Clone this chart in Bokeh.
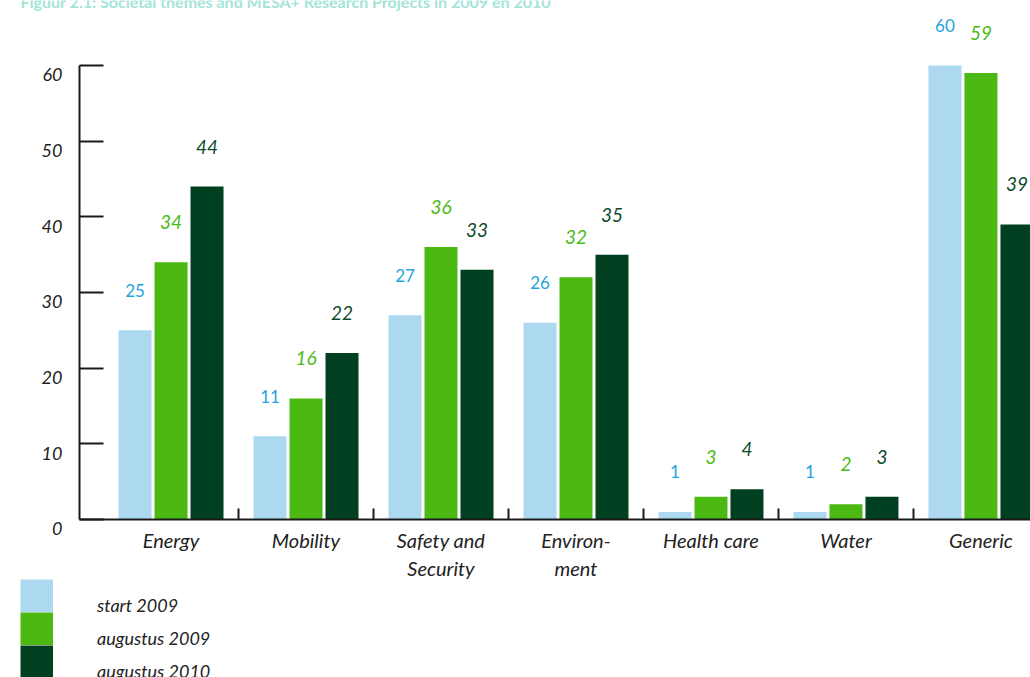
from bokeh.plotting import figure
from bokeh.models import (ColumnDataSource, Range1d, FixedTicker, LinearAxis, Legend, LegendItem, Label)
from bokeh.layouts import column
from bokeh.transform import dodge
from bokeh.core.properties import value
from bokeh.embed import file_html
from bokeh.resources import INLINE

title_text = "Figuur 2.1: Societal themes and MESA+ Research Projects in 2009 en 2010"
categories = ["Energy", "Mobility", "Safety and\nSecurity", "Environ-\nment", "Health care", "Water", "Generic"]
start_2009 = [25, 11, 27, 26, 1, 1, 60]
aug_2009 = [34, 16, 36, 32, 3, 2, 59]
aug_2010 = [44, 22, 33, 35, 4, 3, 39]
series_names = ["start 2009", "augustus 2009", "augustus 2010"]
y_ticks = [0, 10, 20, 30, 40, 50, 60]

bar_colors = ["#acd9f0", "#4bb912", "#003f1f"]
label_colors = ["#1ea5dc", "#4cbb17", "#0d4a2a"]
FONT = "Lato"
W, H = 1030, 677
NAN = float("nan")

idx = list(range(len(categories)))
src = ColumnDataSource(dict(
    idx=idx, s1=start_2009, s2=aug_2009, s3=aug_2010,
    t1=[str(v) for v in start_2009], t2=[str(v) for v in aug_2009], t3=[str(v) for v in aug_2010],
))

p = figure(width=W, height=H, output_backend="svg", toolbar_location=None,
           x_range=Range1d(-0.678, 6.367), y_range=Range1d(0, 68.59),
           min_border_left=79, min_border_top=0, min_border_right=0, min_border_bottom=158,
           x_axis_type=None, y_axis_type=None)
p.outline_line_color = None
p.grid.visible = False
p.frame_align = False

offsets = [-0.2667, 0.0, 0.2667]
cols = ["s1", "s2", "s3"]
tcols = ["t1", "t2", "t3"]
for off, c, tc, bc, lc in zip(offsets, cols, tcols, bar_colors, label_colors):
    p.vbar(x=dodge("idx", off, range=p.x_range), top=c, bottom=0, width=0.2444,
           source=src, fill_color=bc, line_color=None)
    p.text(x=dodge("idx", off, range=p.x_range), y=c, text=tc, source=src,
           y_offset=-40, text_align="center", text_baseline="middle",
           text_font=value(FONT), text_font_size="17px" if c == "s1" else "19px",
           text_font_style="normal" if c == "s1" else "italic", text_color=lc)

# y axis
yax = LinearAxis(ticker=FixedTicker(ticks=y_ticks, minor_ticks=[]), bounds=(0, 60))
yax.axis_line_width = 2
yax.axis_line_color = "#1a1a1a"
yax.major_tick_in = 24
yax.major_tick_out = 0
yax.major_tick_line_width = 2
yax.major_tick_line_color = "#1a1a1a"
yax.minor_tick_line_color = None
yax.major_label_standoff = 17
yax.major_label_text_font = FONT
yax.major_label_text_font_style = "italic"
yax.major_label_text_font_size = "18px"
yax.major_label_text_color = "#222222"
yax.major_label_overrides = {t: "\n" + str(t) for t in y_ticks}
yax.major_label_text_line_height = 0.8
p.add_layout(yax, "left")

# x axis
xax = LinearAxis(ticker=FixedTicker(ticks=idx, minor_ticks=[i + 0.5 for i in idx[:-1]]))
xax.axis_line_width = 2
xax.axis_line_color = "#1a1a1a"
xax.major_tick_line_color = None
xax.major_tick_in = 0
xax.major_tick_out = 0
xax.minor_tick_in = 11
xax.minor_tick_out = 0
xax.minor_tick_line_width = 2
xax.minor_tick_line_color = "#1a1a1a"
xax.major_label_overrides = {i: c for i, c in zip(idx, categories)}
xax.major_label_standoff = 8
xax.major_label_text_font = FONT
xax.major_label_text_font_style = "italic"
xax.major_label_text_font_size = "20px"
xax.major_label_text_color = "#222222"
xax.major_label_text_line_height = 1.17
p.add_layout(xax, "below")

# transparent overlay for title and legend (no frame clipping)
ov = figure(width=W, height=H, output_backend="svg", toolbar_location=None,
            x_range=Range1d(0, W), y_range=Range1d(0, H),
            min_border=0, x_axis_type=None, y_axis_type=None, margin=(-H, 0, 0, 0))
ov.outline_line_color = None
ov.grid.visible = False
ov.background_fill_alpha = 0
ov.border_fill_alpha = 0
ov.frame_align = False

ov.add_layout(Label(x=20, y=H - 1, x_units="screen", y_units="screen", text=title_text,
                    text_font=FONT, text_font_style="bold", text_font_size="16px",
                    text_color="#a3e4d8", text_baseline="middle"))

# legend: colour squares
sq_items = []
for bc in bar_colors:
    lr = ov.line(x=[NAN], y=[NAN], line_color=bc, line_width=33, line_cap="butt")
    sq_items.append(LegendItem(label=" ", renderers=[lr]))
legend_sq = Legend(items=sq_items, location=(20, -1), orientation="vertical",
                   glyph_width=33, glyph_height=33, spacing=0, padding=0, margin=0,
                   label_standoff=0, label_height=20, border_line_color=None,
                   background_fill_alpha=0, label_text_font_size="18px")
ov.add_layout(legend_sq, "center")

# legend: series names (slightly lower than the squares, as in the original)
lb_items = []
for name in series_names:
    lr = ov.line(x=[NAN], y=[NAN], line_alpha=0)
    lb_items.append(LegendItem(label=name, renderers=[lr]))
legend_lb = Legend(items=lb_items, location=(20, -10), orientation="vertical",
                   glyph_width=33, glyph_height=33, spacing=0, padding=0, margin=0,
                   label_standoff=44, label_height=20, border_line_color=None,
                   background_fill_alpha=0, label_text_font=FONT, label_text_font_style="italic",
                   label_text_font_size="18px", label_text_color="#222222")
ov.add_layout(legend_lb, "center")

layout = column(p, ov, spacing=0)
open("out.html", "w").write(file_html(layout, INLINE))
